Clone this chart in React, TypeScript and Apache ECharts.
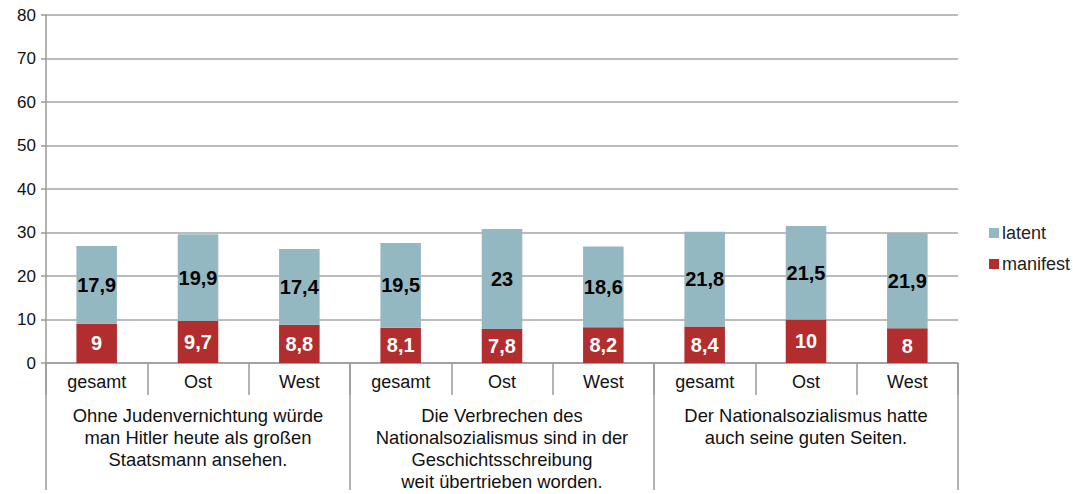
import React, { useEffect, useRef } from "react";
import * as echarts from "echarts";

const subCategories = ["gesamt", "Ost", "West", "gesamt", "Ost", "West", "gesamt", "Ost", "West"];
const groupLabels = [
  "Ohne Judenvernichtung würde\nman Hitler heute als großen\nStaatsmann ansehen.",
  "Die Verbrechen des\nNationalsozialismus sind in der\nGeschichtsschreibung\nweit übertrieben worden.",
  "Der Nationalsozialismus hatte\nauch seine guten Seiten.",
];
const manifest = [9, 9.7, 8.8, 8.1, 7.8, 8.2, 8.4, 10, 8];
const latent = [17.9, 19.9, 17.4, 19.5, 23, 18.6, 21.8, 21.5, 21.9];

const FONT = "Liberation Sans, Arial, sans-serif";
const fmt = (v: number) => String(v).replace(".", ",");

export default function App() {
  const ref = useRef<HTMLDivElement>(null);
  useEffect(() => {
    if (!ref.current) return;
    const chart = echarts.init(ref.current, undefined, { renderer: "svg" });
    chart.setOption({
      animation: false,
      textStyle: { fontFamily: FONT },
      grid: { left: 46, right: 115, top: 15, bottom: 131, containLabel: false },
      legend: {
        orient: "vertical",
        left: 984,
        top: 219,
        itemWidth: 10,
        itemHeight: 10,
        itemGap: 13,
        icon: "rect",
        data: ["latent", "manifest"],
        textStyle: { fontFamily: FONT, fontSize: 18, color: "#222", padding: [0, 0, 0, -2] },
      },
      xAxis: [
        {
          type: "category",
          data: subCategories,
          position: "bottom",
          axisLine: { show: true, lineStyle: { color: "#9a9a9a", width: 1.5 } },
          axisTick: { show: true, length: 32, interval: 0, lineStyle: { color: "#9a9a9a", width: 1.5 } },
          axisLabel: { interval: 0, margin: 10, fontSize: 18, color: "#111", fontFamily: FONT },
        },
        {
          type: "category",
          data: groupLabels,
          position: "bottom",
          offset: 0,
          axisLine: { show: false },
          axisTick: { show: true, length: 127, interval: 0, lineStyle: { color: "#9a9a9a", width: 1.5 } },
          axisLabel: { interval: 0, margin: 42, fontSize: 18.4, lineHeight: 21.8, color: "#111", fontFamily: FONT, align: "center" },
        },
      ],
      yAxis: {
        type: "value",
        min: 0,
        max: 80,
        interval: 10,
        axisLine: { show: true, lineStyle: { color: "#9a9a9a", width: 1.5 } },
        axisTick: { show: true, length: 5, lineStyle: { color: "#9a9a9a", width: 1.5 } },
        splitLine: { show: true, lineStyle: { color: "#a6a6a6", width: 1.5 } },
        axisLabel: { fontSize: 17, color: "#111", margin: 10, fontFamily: FONT },
      },
      series: [
        {
          name: "manifest",
          type: "bar",
          stack: "total",
          barWidth: "40%",
          xAxisIndex: 0,
          itemStyle: { color: "#b22d2d" },
          data: manifest,
          label: {
            show: true,
            position: "inside",
            color: "#fff",
            fontWeight: "bold",
            fontSize: 20,
            fontFamily: FONT,
            formatter: (p: any) => fmt(p.value),
          },
        },
        {
          name: "latent",
          type: "bar",
          stack: "total",
          barWidth: "40%",
          xAxisIndex: 0,
          itemStyle: { color: "#93b8c2" },
          data: latent,
          label: {
            show: true,
            position: "inside",
            color: "#000",
            fontWeight: "bold",
            fontSize: 20,
            fontFamily: FONT,
            formatter: (p: any) => fmt(p.value),
          },
        },
      ],
    });
    return () => chart.dispose();
  }, []);
  return <div ref={ref} style={{ width: 1073, height: 494, position: "absolute", left: 0, top: 0 }} />;
}
